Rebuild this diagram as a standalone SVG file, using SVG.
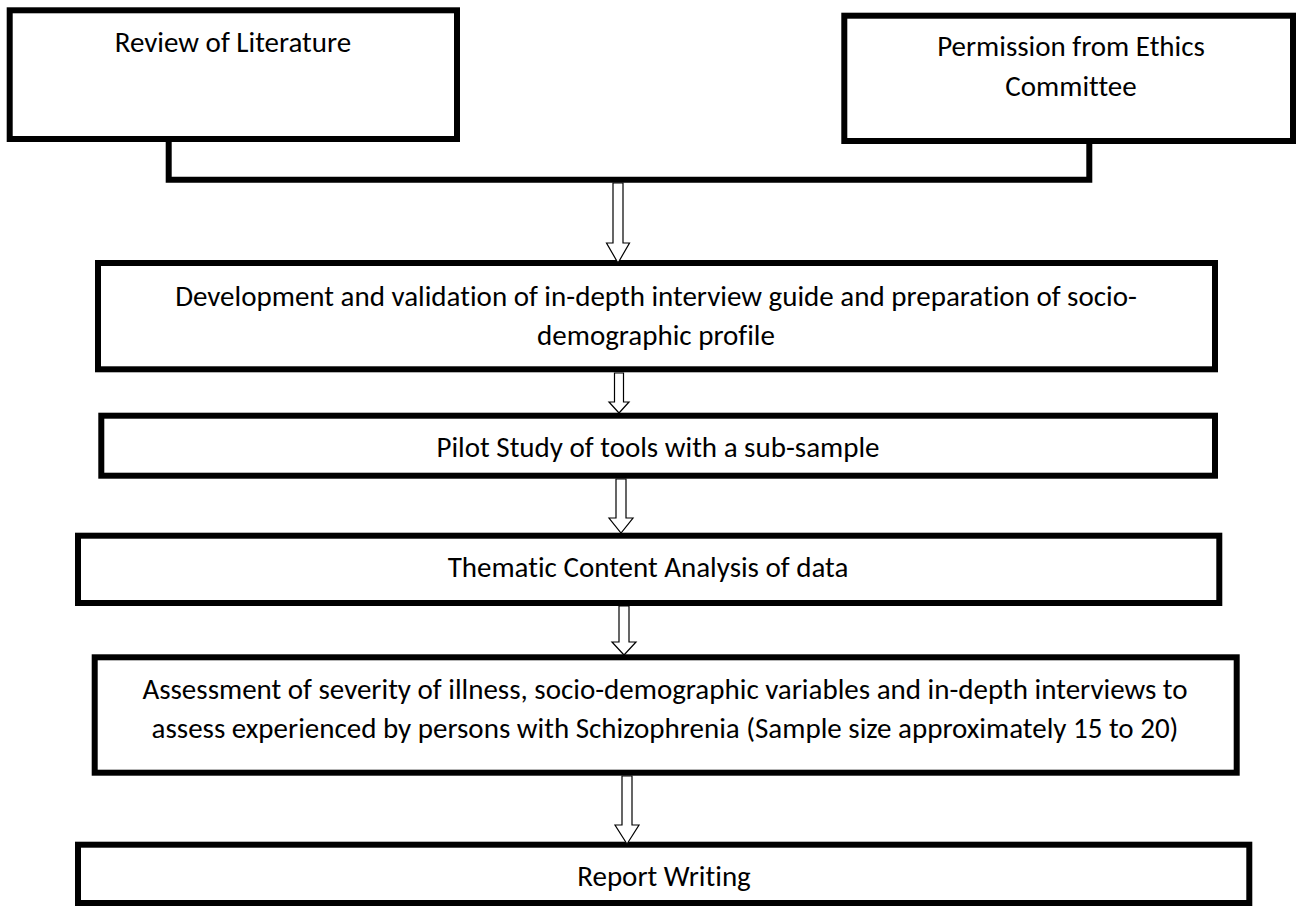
<svg xmlns="http://www.w3.org/2000/svg" width="1298" height="907" viewBox="0 0 1298 907">
<style>
.box{fill:#fff;stroke:#000;stroke-width:6}
.t{font-family:Carlito,Calibri,Lato,"Open Sans",sans-serif;font-size:29px;fill:#000;text-anchor:middle;font-variant-ligatures:none;font-feature-settings:"liga" 0,"clig" 0}
.conn{fill:none;stroke:#000;stroke-width:6;stroke-linejoin:miter}
.arr{fill:#fff;stroke:#000;stroke-width:1.2}
</style>
<rect width="1298" height="907" fill="#fff"/>
<g id="review">
<rect class="box" x="9.7" y="10.3" width="447.3" height="128.7"/>
<text class="t" x="233" y="51.5">Review of Literature</text>
</g>
<g id="permission">
<rect class="box" x="844.3" y="15.7" width="448.7" height="125.3"/>
<text class="t" x="1071" y="56">Permission from Ethics</text>
<text class="t" x="1071" y="95.5">Committee</text>
</g>
<g id="development">
<rect class="box" x="98" y="263" width="1117" height="106.3"/>
<text class="t" x="656" y="305.5">Development and validation of in-depth interview guide and preparation of socio-</text>
<text class="t" x="656" y="345">demographic profile</text>
</g>
<g id="pilot">
<rect class="box" x="101.3" y="415.7" width="1113.7" height="60"/>
<text class="t" x="658" y="457.3">Pilot Study of tools with a sub-sample</text>
</g>
<g id="thematic">
<rect class="box" x="78" y="535.7" width="1141.3" height="67.3"/>
<text class="t" x="648" y="576.7">Thematic Content Analysis of data</text>
</g>
<g id="assessment">
<rect class="box" x="94.7" y="657.3" width="1142" height="115.4"/>
<text class="t" x="665" y="699">Assessment of severity of illness, socio-demographic variables and in-depth interviews to</text>
<text class="t" x="665" y="738.3">assess experienced by persons with Schizophrenia (Sample size approximately 15 to 20)</text>
</g>
<g id="report">
<rect class="box" x="78" y="844.7" width="1171.3" height="58.3"/>
<text class="t" x="664" y="886">Report Writing</text>
</g>
<g id="connectors">
<path class="conn" d="M168.7,142 V179.7 H1089.3 V144"/>
<path class="arr" d="M613,183 H623 V243 H629.5 L618,263 L606.5,243 H613 Z"/>
<path class="arr" d="M614.5,373 H623.5 V402 H629 L619,413 L609,402 H614.5 Z"/>
<path class="arr" d="M616,479 H626 V518 H633 L621,533 L609,518 H616 Z"/>
<path class="arr" d="M619,606 H629 V642 H636 L624,655 L612,642 H619 Z"/>
<path class="arr" d="M622,776 H632 V825 H639 L627,844 L615,825 H622 Z"/>
</g>
</svg>
